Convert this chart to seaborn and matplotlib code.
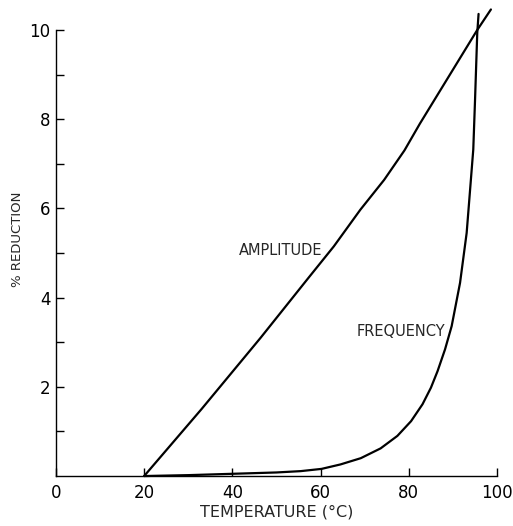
import matplotlib
matplotlib.use("Agg")
import matplotlib.pyplot as plt
import seaborn as sns
import pandas as pd

# Data
amp_temp = [20, 33, 46.4, 57.3, 63, 69, 74.4, 79, 82.5, 95.5, 98.6]
amp_red = [0.0, 1.5, 3.1, 4.45, 5.15, 5.97, 6.64, 7.3, 7.9, 10.0, 10.46]

freq_temp = [20, 30, 40, 50, 55.5, 60.2, 64.5, 69.1, 73.6, 77.4, 80.5, 83.1,
             85, 86.5, 88.2, 89.7, 91.6, 93.1, 94, 94.6, 95, 95.5, 95.8]
freq_red = [0.0, 0.02, 0.05, 0.08, 0.11, 0.16, 0.26, 0.40, 0.62, 0.90, 1.23,
            1.61, 1.98, 2.35, 2.84, 3.36, 4.33, 5.45, 6.57, 7.32, 8.43, 9.93,
            10.36]

x_ticks = [0, 20, 40, 60, 80, 100]
y_ticks = [2, 4, 6, 8, 10]
y_minor = [1, 3, 5, 7, 9]

sns.set_style("ticks")
plt.rcParams['font.family'] = ['DejaVu Sans']

df_amp = pd.DataFrame({"t": amp_temp, "r": amp_red})
df_freq = pd.DataFrame({"t": freq_temp, "r": freq_red})

fig = plt.figure(figsize=(5.13, 5.26), dpi=100)
ax = fig.add_axes([0.109, 0.095, 0.86, 0.848])

sns.lineplot(data=df_amp, x="t", y="r", ax=ax, color="black", linewidth=1.6, sort=False)
sns.lineplot(data=df_freq, x="t", y="r", ax=ax, color="black", linewidth=1.6, sort=False)
for ln in ax.lines:
    ln.set_clip_on(False)

ax.set_xlim(0, 100)
ax.set_ylim(0, 10)
ax.set_xticks(x_ticks)
ax.set_xticklabels([str(v) for v in x_ticks])
ax.set_yticks(y_ticks)
ax.set_yticklabels([str(v) for v in y_ticks])
ax.set_yticks(y_minor, minor=True)

ax.tick_params(axis="both", which="both", direction="in", length=6, width=1.0,
               labelsize=12, colors="black")
ax.tick_params(axis="x", pad=6)
ax.tick_params(axis="y", pad=4)

for s in ["top", "right"]:
    ax.spines[s].set_visible(False)
for s in ["left", "bottom"]:
    ax.spines[s].set_linewidth(1.0)
    ax.spines[s].set_color("black")

ax.set_xlabel("TEMPERATURE (°C)", fontsize=11.5)
ax.set_ylabel("% REDUCTION", fontsize=9.5)
ax.xaxis.label.set_va("center")
ax.yaxis.label.set_va("center")
ax.xaxis.set_label_coords(0.5, -0.081)
ax.yaxis.set_label_coords(-0.086, 0.53)

ax.text(60.5, 5.05, "AMPLITUDE", fontsize=10.5, ha="right", va="center")
ax.text(88.2, 3.25, "FREQUENCY", fontsize=10.5, ha="right", va="center")

fig.savefig("out.png", dpi=100)
